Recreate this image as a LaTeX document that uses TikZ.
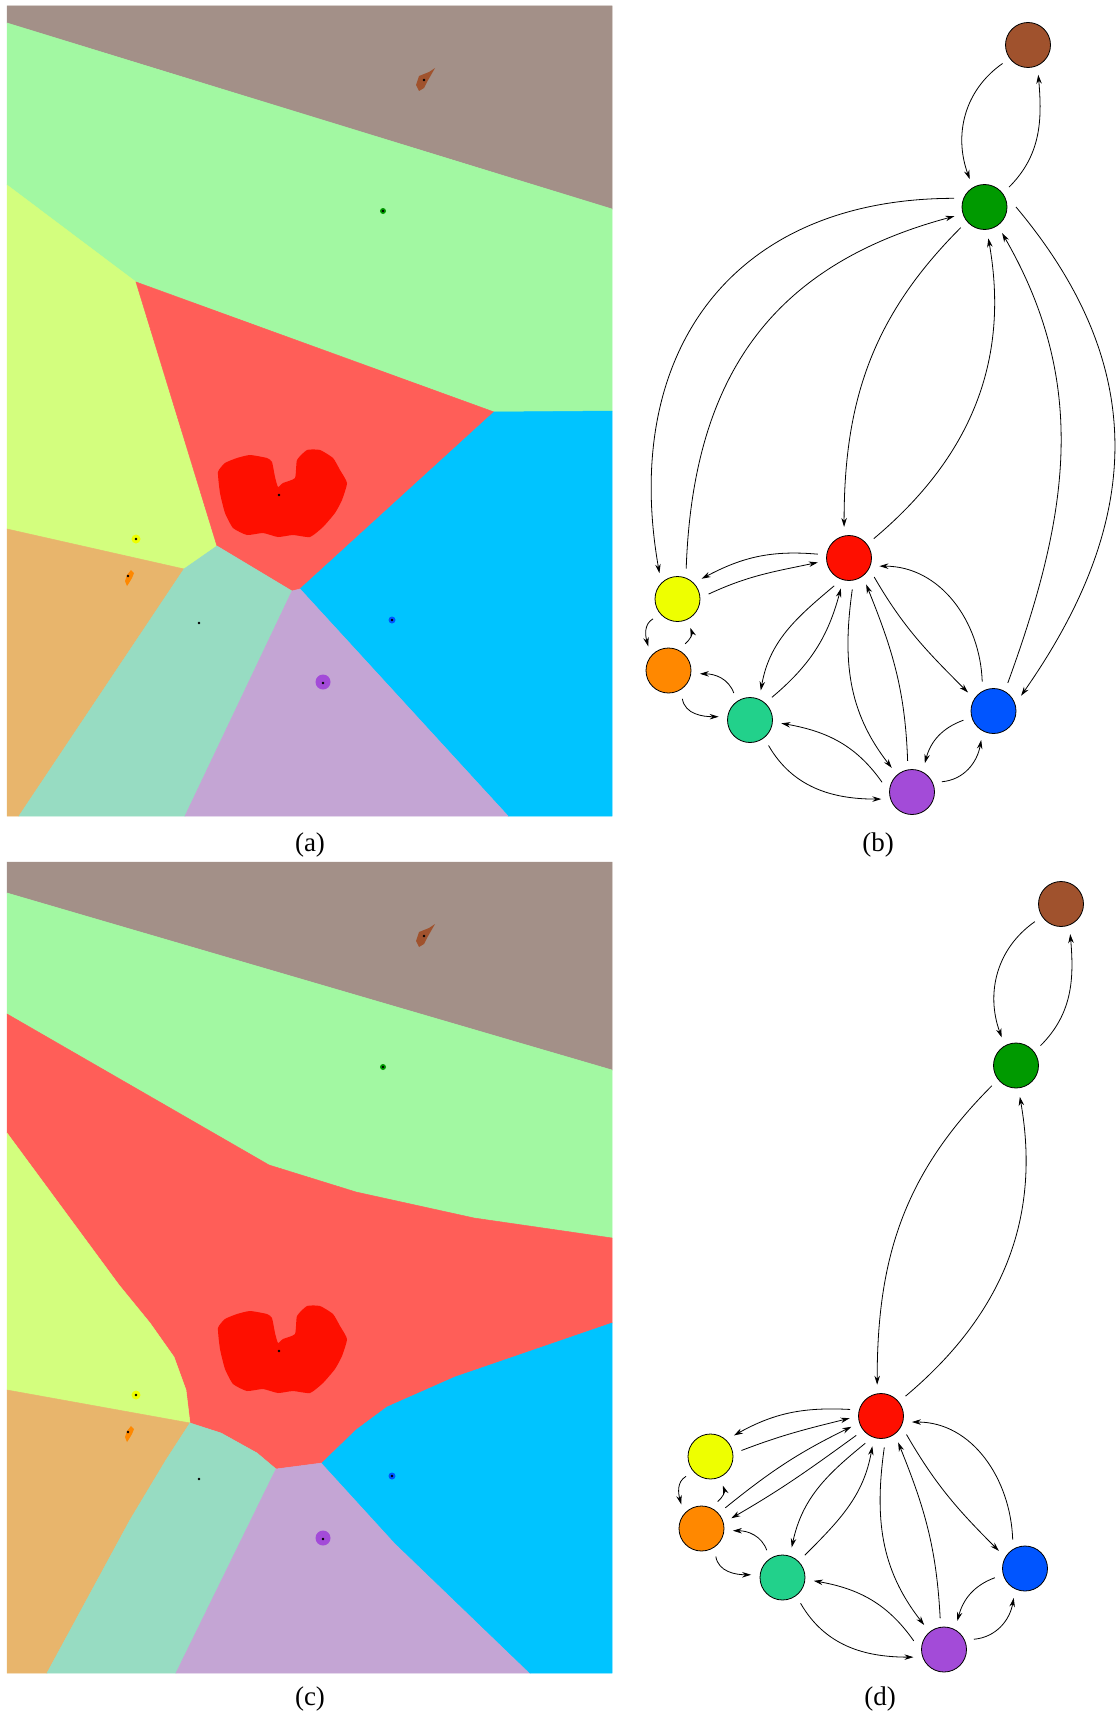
\documentclass[tikz,border=0pt]{standalone}
\usepackage{fontspec}
\setmainfont{Liberation Serif}
\usepackage{xcolor}
\usepackage{tikz}
\usetikzlibrary{arrows.meta}
% region colours of the partitions
\definecolor{RegBrown}{HTML}{A39088}
\definecolor{RegGreen}{HTML}{A2F8A2}
\definecolor{RegYellow}{HTML}{D3FE7E}
\definecolor{RegRed}{HTML}{FF5E58}
\definecolor{RegBlue}{HTML}{00C4FF}
\definecolor{RegOrange}{HTML}{E8B56C}
\definecolor{RegTeal}{HTML}{97DCC2}
\definecolor{RegPurple}{HTML}{C4A5D4}
% seed / node colours
\definecolor{NBrown}{HTML}{A0522D}
\definecolor{NGreen}{HTML}{009A00}
\definecolor{NRed}{HTML}{FE0F00}
\definecolor{NYellow}{HTML}{EEFF00}
\definecolor{NOrange}{HTML}{FF8800}
\definecolor{NTeal}{HTML}{22D18B}
\definecolor{NBlue}{HTML}{0055FF}
\definecolor{NPurple}{HTML}{A34BD8}

\begin{document}
\begin{tikzpicture}[x=1pt, y=-1pt,
  region/.style={fill=#1, draw=#1, line width=0.5pt},
  state/.style={circle, draw=black, line width=0.8pt, minimum size=45pt, inner sep=0pt, outer sep=9pt},
  link/.style={-{Stealth[length=9pt,width=5.5pt]}, line width=0.8pt},
  sublabel/.style={font=\fontsize{27}{32}\selectfont}]
\useasboundingbox (0,0) rectangle (1117,1715);

% (a) partition
\path[region=RegBrown] (7,6) -- (612,6) -- (612,209) -- (7,23) -- cycle;
\path[region=RegGreen] (7,23) -- (612,209) -- (612,411) -- (494,412) -- (136,282) -- (7,185) -- cycle;
\path[region=RegYellow] (7,185) -- (136,282) -- (217,546) -- (184,569) -- (7,529) -- cycle;
\path[region=RegRed] (136,282) -- (494,412) -- (300,589) -- (292,591) -- (217,546) -- cycle;
\path[region=RegBlue] (494,412) -- (612,411) -- (612,816) -- (508,816) -- (300,589) -- cycle;
\path[region=RegOrange] (7,529) -- (184,569) -- (19,816) -- (7,816) -- cycle;
\path[region=RegTeal] (184,569) -- (217,546) -- (292,591) -- (185,816) -- (19,816) -- cycle;
\path[region=RegPurple] (292,591) -- (300,589) -- (508,816) -- (185,816) -- cycle;

% (c) partition
\path[region=RegBrown] (7,862) -- (612,862) -- (612,1070) -- (7,893) -- cycle;
\path[region=RegGreen] (7,893) -- (612,1070) -- (612,1238) -- (474,1218) -- (356,1192) -- (269,1165) -- (7,1014) -- cycle;
\path[region=RegRed] (7,1014) -- (269,1165) -- (356,1192) -- (474,1218) -- (612,1238) -- (612,1323) -- (455,1377) -- (387,1407) -- (356,1430) -- (322,1463) -- (276,1469) -- (257,1453) -- (221,1433) -- (190,1423) -- (186,1390) -- (174,1357) -- (150,1323) -- (119,1285) -- (7,1133) -- cycle;
\path[region=RegYellow] (7,1133) -- (119,1285) -- (150,1323) -- (174,1357) -- (186,1390) -- (190,1423) -- (7,1390) -- cycle;
\path[region=RegOrange] (7,1390) -- (190,1423) -- (166,1460) -- (130,1520) -- (47,1673) -- (7,1673) -- cycle;
\path[region=RegTeal] (190,1423) -- (221,1433) -- (257,1453) -- (276,1469) -- (176,1673) -- (47,1673) -- (130,1520) -- (166,1460) -- cycle;
\path[region=RegPurple] (276,1469) -- (322,1463) -- (395,1543) -- (530,1673) -- (176,1673) -- cycle;
\path[region=RegBlue] (322,1463) -- (356,1430) -- (387,1407) -- (455,1377) -- (612,1323) -- (612,1673) -- (530,1673) -- (395,1543) -- cycle;

% seeds, same in (a) and (c)
\foreach \off in {0,856}{
\begin{scope}[shift={(0,\off)}]
  \fill[NBrown] (435,68) -- (429,72) -- (419,76) -- (416,85) -- (419,91) -- (424,88) -- (427,82) -- (431,75) -- cycle;
  \fill[NGreen] (383,211) circle (3);
  \fill[NRed] plot[smooth cycle, tension=0.3] coordinates {(225,463) (237,458) (250,455) (267,458) (272,462) (275,477) (278,487) (283,483) (295,478) (297,460) (307,450) (320,450) (333,458) (340,470) (347,483) (342,500) (335,513) (323,527) (310,537) (293,535) (278,537) (263,533) (247,535) (233,528) (225,513) (220,493) (218,472)};
  \fill[NYellow] (136,539) circle (4.5);
  \fill[NOrange] (131,570) -- (134,573) -- (132,578) -- (129,583) -- (127,586) -- (125,581) -- (127,575) -- cycle;
  \fill[NBlue] (392,620) circle (3.5);
  \fill[NPurple] (323,682) circle (7.5);
  \foreach \p in {(424,80),(383,211),(279,495),(136,539),(128,576),(199,623),(392,620),(323,683)}
    \fill \p circle (1.4);
\end{scope}}

% (b) graph
\node[state, fill=NBrown] (bBrown) at (1028,45) {};
\node[state, fill=NGreen] (bGreen) at (984.5,207) {};
\node[state, fill=NRed] (bRed) at (849,558) {};
\node[state, fill=NYellow] (bYellow) at (677.5,599) {};
\node[state, fill=NOrange] (bOrange) at (668.5,670.5) {};
\node[state, fill=NTeal] (bTeal) at (750,720) {};
\node[state, fill=NBlue] (bBlue) at (993.5,711) {};
\node[state, fill=NPurple] (bPurple) at (912,792) {};

\draw[link] (bBrown.216) to[out=215,in=110] (bGreen.118);
\draw[link] (bGreen.39) to[out=45,in=275] (bBrown.289);
\draw[link] (bGreen.164) to[out=180,in=100,looseness=1.2] (bYellow.125);
\draw[link] (bYellow.74) to[out=88,in=195,looseness=1.1] (bGreen.197);
\draw[link] (bGreen.221) to[out=225,in=90] (bRed.99);
\draw[link] (bRed.38) to[out=40,in=280] (bGreen.277);
\draw[link] (bBlue.63) to[out=70,in=300] (bGreen.304);
\draw[link] (bGreen.0) to[out=-50,in=55,looseness=1.1] (bBlue.29);
\draw[link] (bRed.173) to[out=175,in=28] (bYellow.40);
\draw[link] (bYellow.9) to[out=25,in=192] (bRed.188);
\draw[link] (bRed.242) to[out=220,in=80] (bTeal.70);
\draw[link] (bTeal.46) to[out=40,in=255] (bRed.255);
\draw[link] (bRed.276) to[out=262,in=128] (bPurple.130);
\draw[link] (bPurple.98) to[out=92,in=292] (bRed.303);
\draw[link] (bRed.323) to[out=300,in=135] (bBlue.144);
\draw[link] (bBlue.111) to[out=92,in=0] (bRed.345);
\draw[link] (bYellow.219) to[out=210,in=105] (bOrange.130);
\draw[link] (bOrange.58) to[out=40,in=290] (bYellow.294);
\draw[link] (bTeal.121) to[out=110,in=0] (bOrange.354);
\draw[link] (bOrange.296) to[out=280,in=180] (bTeal.174);
\draw[link] (bPurple.162) to[out=125,in=350] (bTeal.354);
\draw[link] (bTeal.306) to[out=300,in=180] (bPurple.193);
\draw[link] (bBlue.197) to[out=200,in=75] (bPurple.66);
\draw[link] (bPurple.19) to[out=5,in=260] (bBlue.247);

% (d) graph
\node[state, fill=NBrown] (dBrown) at (1061,904) {};
\node[state, fill=NGreen] (dGreen) at (1016,1065.5) {};
\node[state, fill=NRed] (dRed) at (881,1416) {};
\node[state, fill=NYellow] (dYellow) at (710.5,1456.5) {};
\node[state, fill=NOrange] (dOrange) at (701.5,1528.5) {};
\node[state, fill=NTeal] (dTeal) at (782.5,1577.5) {};
\node[state, fill=NBlue] (dBlue) at (1025,1568.5) {};
\node[state, fill=NPurple] (dPurple) at (944,1649.5) {};

\draw[link] (dBrown.214) to[out=215,in=110] (dGreen.117);
\draw[link] (dGreen.39) to[out=45,in=275] (dBrown.287);
\draw[link] (dGreen.220) to[out=225,in=90] (dRed.97);
\draw[link] (dRed.39) to[out=40,in=280] (dGreen.277);
\draw[link] (dRed.168) to[out=177,in=29] (dYellow.42);
\draw[link] (dYellow.11) to[out=21,in=194] (dRed.184);
\draw[link] (dOrange.41) to[out=39,in=206] (dRed.200);
\draw[link] (dRed.218) to[out=216,in=30] (dOrange.19);
\draw[link] (dRed.240) to[out=219,in=78] (dTeal.73);
\draw[link] (dTeal.45) to[out=45,in=260] (dRed.254);
\draw[link] (dRed.276) to[out=262,in=128] (dPurple.129);
\draw[link] (dPurple.97) to[out=93,in=292] (dRed.303);
\draw[link] (dRed.324) to[out=300,in=135] (dBlue.146);
\draw[link] (dBlue.113) to[out=92,in=0] (dRed.349);
\draw[link] (dYellow.219) to[out=210,in=105] (dOrange.130);
\draw[link] (dOrange.59) to[out=40,in=290] (dYellow.293);
\draw[link] (dTeal.120) to[out=110,in=0] (dOrange.356);
\draw[link] (dOrange.297) to[out=280,in=180] (dTeal.175);
\draw[link] (dPurple.164) to[out=125,in=350] (dTeal.354);
\draw[link] (dTeal.305) to[out=300,in=180] (dPurple.194);
\draw[link] (dBlue.197) to[out=200,in=75] (dPurple.65);
\draw[link] (dPurple.19) to[out=5,in=260] (dBlue.249);

% captions
\node[sublabel] (capA) at (310,845) {(a)};
\node[sublabel] (capB) at (878,845) {(b)};
\node[sublabel] (capC) at (310,1699) {(c)};
\node[sublabel] (capD) at (880,1699) {(d)};
\end{tikzpicture}
\end{document}
